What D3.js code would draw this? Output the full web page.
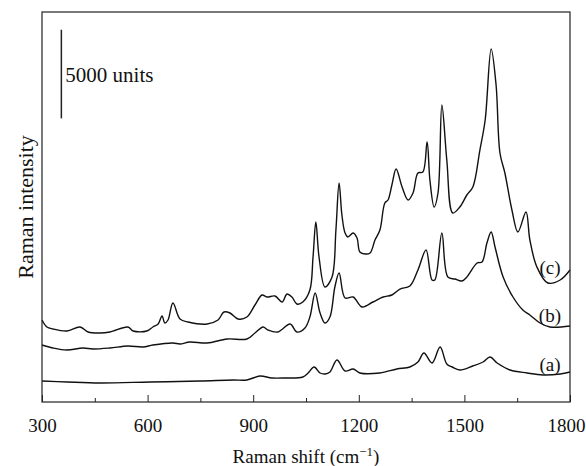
<!DOCTYPE html>
<html>
<head>
<meta charset="utf-8">
<script src="https://cdn.jsdelivr.net/npm/d3@7"></script>
<style>
  body { margin: 0; background: #fff; }
  text { font-family: "Liberation Serif", "Times New Roman", serif; fill: #111; }
</style>
</head>
<body>
<svg id="chart"></svg>
<script>
// spectrum (a)
const shiftA = [300, 371, 465, 607, 749, 843, 882, 919, 953, 990, 1041, 1056, 1073, 1090, 1104, 1118, 1138, 1161, 1184, 1203, 1260, 1308, 1345, 1368, 1385, 1408, 1431, 1450, 1465, 1487, 1524, 1553, 1573, 1593, 1630, 1678, 1723, 1772, 1800];
const intensityA = [1185, 1128, 1072, 1128, 1185, 1241, 1241, 1467, 1354, 1354, 1410, 1636, 1974, 1636, 1579, 1692, 2369, 1749, 1862, 1636, 1636, 1862, 1974, 2256, 2764, 2200, 3103, 2144, 1974, 1805, 2031, 2256, 2538, 2200, 1805, 1636, 1523, 1579, 1692];

// spectrum (b)
const shiftB = [300, 331, 371, 416, 445, 493, 544, 587, 615, 672, 692, 720, 769, 826, 882, 905, 928, 942, 970, 1005, 1024, 1047, 1061, 1076, 1090, 1104, 1118, 1132, 1144, 1161, 1184, 1209, 1240, 1269, 1294, 1317, 1345, 1368, 1391, 1408, 1416, 1436, 1453, 1473, 1493, 1507, 1536, 1550, 1564, 1576, 1587, 1610, 1638, 1666, 1686, 1715, 1743, 1800];
const intensityB = [3215, 3046, 2933, 3046, 2990, 3046, 3159, 3103, 3215, 3328, 3272, 3385, 3328, 3554, 3554, 3892, 4231, 4062, 3949, 4400, 3949, 4174, 4795, 6149, 5020, 4456, 4795, 6487, 7277, 5867, 5923, 5359, 5641, 5923, 6036, 6374, 6544, 7446, 8574, 6882, 6882, 9533, 7051, 6938, 6826, 7051, 7841, 7897, 8969, 9590, 8744, 7051, 5923, 5190, 4908, 4456, 4231, 4287];

// spectrum (c)
const shiftC = [300, 314, 331, 371, 408, 431, 465, 493, 544, 559, 598, 615, 630, 641, 649, 658, 672, 692, 715, 769, 800, 817, 834, 857, 882, 905, 925, 939, 962, 982, 996, 1010, 1024, 1041, 1061, 1070, 1078, 1087, 1104, 1124, 1135, 1144, 1152, 1161, 1169, 1184, 1195, 1203, 1218, 1232, 1246, 1260, 1274, 1283, 1294, 1306, 1323, 1340, 1354, 1368, 1382, 1394, 1402, 1414, 1425, 1436, 1450, 1467, 1487, 1507, 1524, 1544, 1559, 1576, 1590, 1601, 1615, 1635, 1652, 1675, 1686, 1706, 1737, 1772, 1800];
const intensityC = [4626, 4231, 4118, 4005, 4231, 3949, 3892, 3949, 4231, 4005, 4005, 4231, 4400, 4851, 4456, 4626, 5585, 4682, 4513, 4400, 4626, 5077, 5020, 4682, 4795, 5472, 6036, 5923, 5979, 5641, 6092, 5923, 5528, 5641, 6318, 8179, 10154, 8179, 6487, 7051, 9703, 12354, 10549, 9533, 9308, 9533, 9251, 8462, 8349, 8405, 9138, 9703, 11226, 11395, 12241, 13144, 12128, 11395, 11790, 12918, 12974, 14667, 12523, 11000, 11790, 16754, 13651, 10661, 11000, 11677, 12128, 14215, 15908, 19913, 17882, 14046, 12918, 10831, 9590, 10718, 9138, 7615, 6713, 6882, 7446];

const seriesNames = ['(a)', '(b)', '(c)'];
const labelShift = [1743, 1743, 1743];
const labelIntensity = [2144, 4908, 7615];

const xTicks = [300, 600, 900, 1200, 1500, 1800];
const xMinorTicks = [450, 750, 1050, 1350, 1650];

const scaleBarShift = 355;
const scaleBarRange = [16000, 21000];
const scaleBarLabel = '5000 units';

const width = 586;
const height = 466;
const margin = { top: 12, right: 16, bottom: 64, left: 42 };

const svg = d3.select('#chart')
  .attr('width', width)
  .attr('height', height);

const x = d3.scaleLinear()
  .domain([300, 1800])
  .range([margin.left, width - margin.right]);

const y = d3.scaleLinear()
  .domain([0, 22000])
  .range([height - margin.bottom, margin.top]);

const spectra = [
  shiftA.map((s, i) => [s, intensityA[i]]),
  shiftB.map((s, i) => [s, intensityB[i]]),
  shiftC.map((s, i) => [s, intensityC[i]]),
];

const line = d3.line()
  .x(d => x(d[0]))
  .y(d => y(d[1]))
  .curve(d3.curveCatmullRom.alpha(0.5));

svg.append('g')
  .selectAll('path')
  .data(spectra)
  .enter()
  .append('path')
  .attr('d', line)
  .attr('fill', 'none')
  .attr('stroke', '#111')
  .attr('stroke-width', 1.4)
  .attr('stroke-linejoin', 'round');

// inward ticks on the bottom axis
const xAxis = svg.append('g')
  .attr('transform', `translate(0,${height - margin.bottom})`)
  .call(d3.axisBottom(x).tickValues(xTicks).tickFormat(d3.format('d'))
    .tickSizeInner(-7).tickSizeOuter(0).tickPadding(17));
xAxis.select('.domain').remove();
xAxis.selectAll('line').attr('stroke', '#222');
xAxis.selectAll('text')
  .style('font-family', '"Liberation Serif", serif')
  .style('font-size', '19px')
  .attr('fill', '#111')
  .attr('dx', d => d === 1800 ? -4 : 0);

const xMinor = svg.append('g')
  .attr('transform', `translate(0,${height - margin.bottom})`)
  .call(d3.axisBottom(x).tickValues(xMinorTicks).tickSizeInner(-4).tickSizeOuter(0).tickFormat(''));
xMinor.select('.domain').remove();
xMinor.selectAll('line').attr('stroke', '#222');

// frame
svg.append('rect')
  .attr('x', margin.left)
  .attr('y', margin.top)
  .attr('width', width - margin.left - margin.right)
  .attr('height', height - margin.top - margin.bottom)
  .attr('fill', 'none')
  .attr('stroke', '#222')
  .attr('stroke-width', 1.2);

// scale bar
svg.append('line')
  .attr('x1', x(scaleBarShift))
  .attr('x2', x(scaleBarShift))
  .attr('y1', y(scaleBarRange[0]))
  .attr('y2', y(scaleBarRange[1]))
  .attr('stroke', '#222')
  .attr('stroke-width', 1.5);

svg.append('text')
  .attr('x', x(scaleBarShift) + 4)
  .attr('y', y((scaleBarRange[0] + scaleBarRange[1]) / 2) + 8)
  .style('font-size', '21px')
  .text(scaleBarLabel);

// series labels
svg.append('g')
  .selectAll('text')
  .data(seriesNames)
  .enter()
  .append('text')
  .attr('x', (d, i) => x(labelShift[i]))
  .attr('y', (d, i) => y(labelIntensity[i]))
  .attr('dy', '0.35em')
  .attr('text-anchor', 'middle')
  .style('font-size', '19px')
  .text(d => d);

// axis titles
const xTitle = svg.append('text')
  .attr('x', (margin.left + width - margin.right) / 2)
  .attr('y', 463)
  .attr('text-anchor', 'middle')
  .style('font-size', '19px');
xTitle.append('tspan').text('Raman shift (cm');
xTitle.append('tspan').attr('dy', -7).style('font-size', '13px').text('\u22121');
xTitle.append('tspan').attr('dy', 7).text(')');

svg.append('text')
  .attr('transform', `translate(33,${(margin.top + height - margin.bottom) / 2}) rotate(-90)`)
  .attr('text-anchor', 'middle')
  .style('font-size', '22px')
  .text('Raman intensity');
</script>
</body>
</html>
